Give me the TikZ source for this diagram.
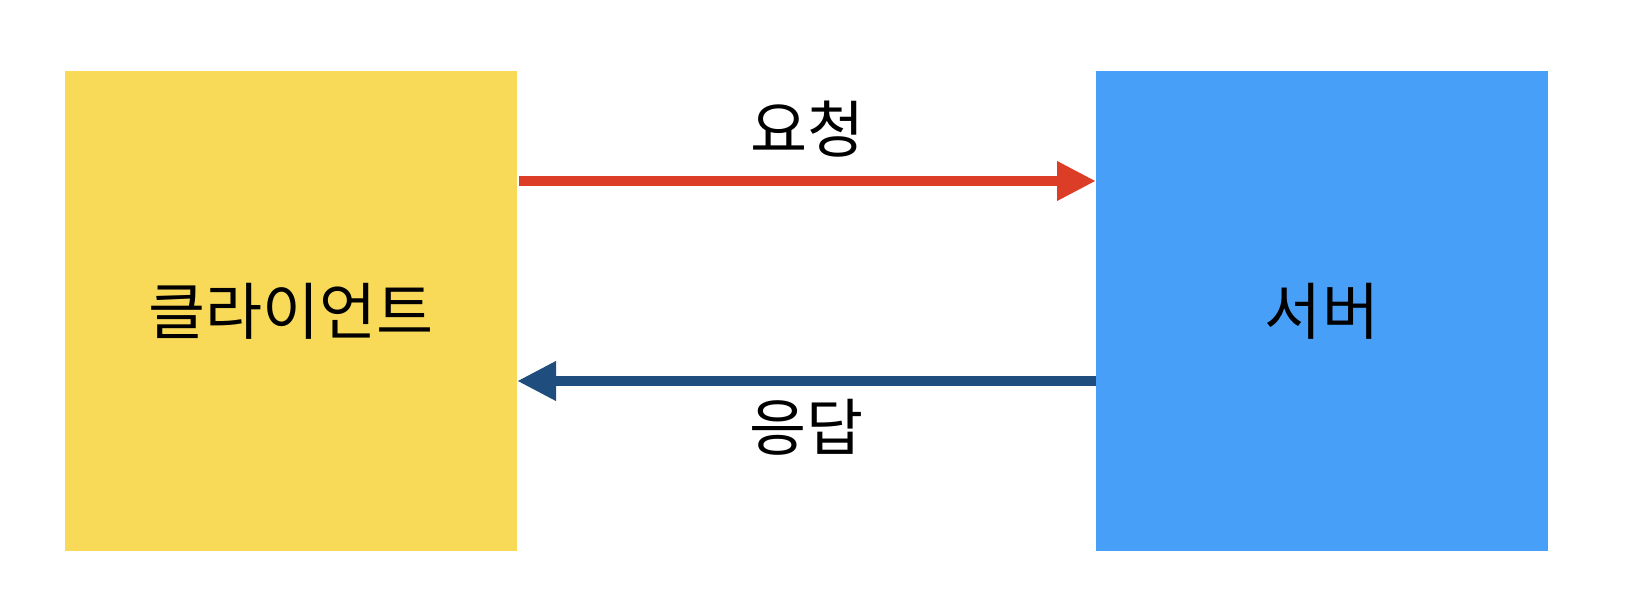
\documentclass[tikz,border=0pt]{standalone}
\usepackage{fontspec}
\newfontfamily\kofont{Noto Sans CJK KR}
\usetikzlibrary{arrows.meta,positioning}
\definecolor{clientyellow}{HTML}{F8DA58}
\definecolor{serverblue}{HTML}{489FF8}
\definecolor{reqred}{HTML}{DC3D26}
\definecolor{resblue}{HTML}{1F4E7E}

\begin{document}
\begin{tikzpicture}[
	x=1pt, y=1pt,
	every node/.style={font=\kofont\fontsize{62}{68}\selectfont, text=black},
	box/.style={minimum width=452pt, minimum height=480pt, inner sep=0pt, outer sep=0pt},
	request/.style={-{Triangle[length=39pt, width=37pt]}, line width=10pt, reqred},
	response/.style={-{Triangle[length=39pt, width=37pt]}, line width=10pt, resblue},
	node distance=579pt
	]
	\useasboundingbox (0,0) rectangle (1628,614);
	
	\node[box, fill=clientyellow] (Client) at (291,303) {클라이언트};
	\node[box, fill=serverblue, right=of Client] (Server) {서버};
	
	\draw[request] ([xshift=2pt, yshift=130pt]Client.east) -- ([yshift=130pt]Server.west)
		node[midway, yshift=52pt] (Req) {요청};
	\draw[response] ([yshift=-70pt]Server.west) -- ([yshift=-70pt]Client.east)
		node[midway, yshift=-46pt] (Res) {응답};
	
\end{tikzpicture}
\end{document}
